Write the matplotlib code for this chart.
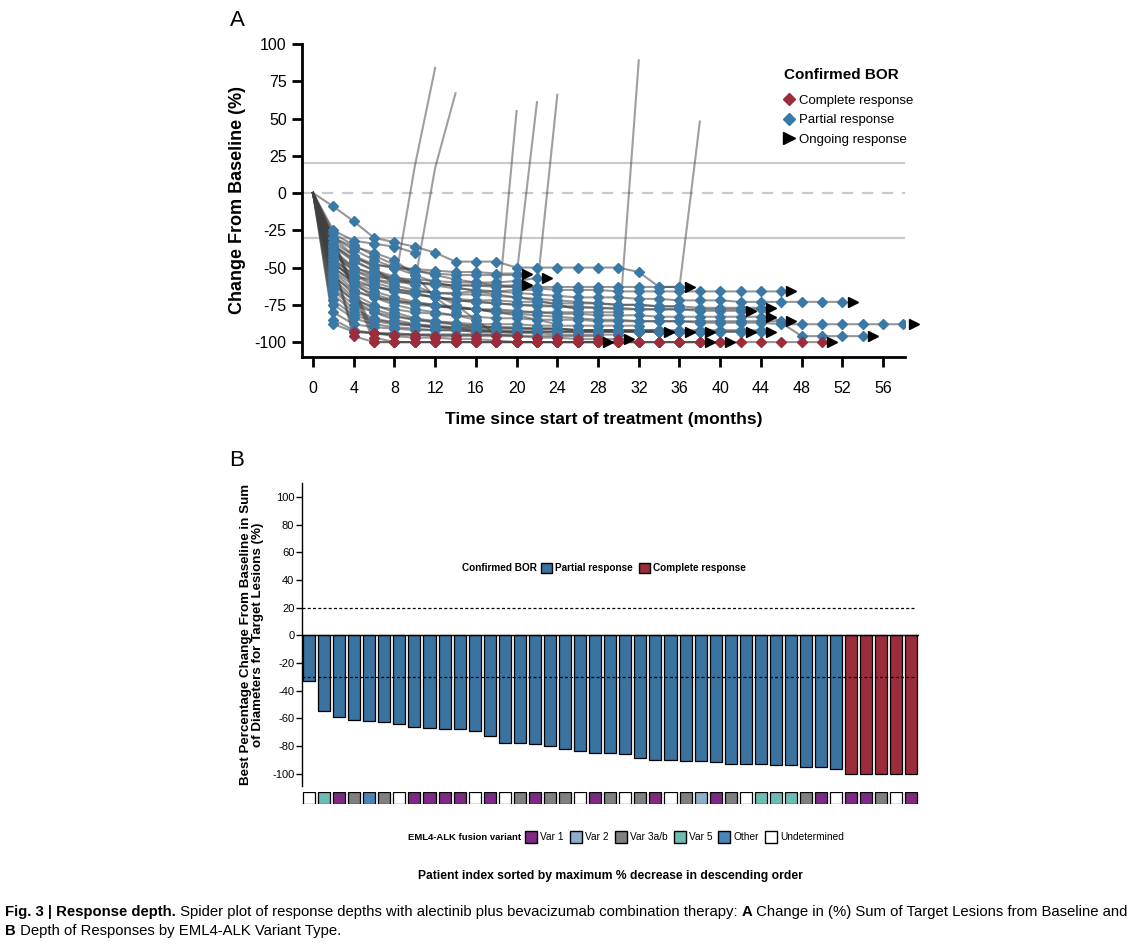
import matplotlib
matplotlib.use("Agg")
import matplotlib.pyplot as plt
from matplotlib.patches import Patch
from matplotlib.lines import Line2D

# --- panel A: spider plot, values at the 2-monthly assessments ---
visit_months = [0, 2, 4, 6, 8, 10, 12, 14, 16, 18, 20, 22, 24, 26, 28,
                30, 32, 34, 36, 38, 40, 42, 44, 46, 48, 50, 52, 54, 56, 58]

# partial responders (None = no assessment at that visit)
pr_curves = [
    [0, -9, -19, -30, -33, -36, -40, -46, -46, -46, -50, -50, -50, -50, -50, -50, -53, -63, -63],
    [0, -30, -42, -50, -62],
    [0, -38, -50, -55, -58, -60],
    [0, -55, -68, -75, -80, -84, -86, -88, -90, -90],
    [0, -33, -42, -48, -50, -52, -54, -55, -55, -55, -55],
    [0, -50, -60, -63, -65, -66, -67, -67, -66, -66, -65, -65],
    [0, -60, -72, -80, -85, -88, -90, -91, -92, -93, -94, -94, -95, -95, -95, -95],
    [0, -42, -52, -56, -58, -60, -61, -62, -62, -63, -63, -63, -63, -63, -63, -63, -63, -63, -63],
    [0, -35, -44, -48, -50, -51, -52, -53, -53, -54, -54],
    [0, -48, -56, -58, -60, -60, -61, -62, -62, -62, -62],
    [0, -40, -50, -54, -57, -58, -59, -60, -60, -60, -59, -57],
    [0, -65, -78, -84, -87, -89, -90, -91, -92, -92, -93, -93, -93, -93, -93, -93, -93, -93],
    [0, -75, -84, -88, -90, -91, -92, -92, -93, -93, -93, -93, -93, -93, -93, -93, -93, -93, -93],
    [0, -58, -70, -78, -82, -85, -87, -88, -89, -90, -90, -91, -91, -92, -92, -92, -93, -93, -93, -93],
    [0, -80, -88, -90, -91, -92, -92, -92, -93, -93, -93, -93, -93, -93, -93, -93, -93, -93, -93, -93, -93, -93],
    [0, -68, -80, -85, -87, -88, -89, -90, -90, -90, -91, -91, -91, -92, -92, -92, -92, -92, -93, -93, -93, -93, -93],
    [0, -45, -55, -60, -64, -67, -70, -72, -73, -74, -75, -75, -76, -76, -77, -77, -78, -78, -78, -79, -79, -79],
    [0, -30, -38, -45, -50, -55, -60, -63, -66, -68, -70, -71, -72, -73, -74, -75, -75, -76, -76, -77, -77, -77, -77],
    [0, -52, -62, -68, -72, -74, -76, -77, -78, -79, -80, -80, -81, -81, -82, -82, -82, -83, -83, -83, -83, -83, -83],
    [0, -62, -72, -76, -78, -80, -81, -82, -83, -84, -84, -85, -85, -85, -86, -86, -86, -86, -86, -86, -86, -86, -86, -86],
    [0, -27, -35, -42, -48, -52, -55, -58, -60, -62, -63, -64, -65, -65, -65, -66, -66, -66, -66, -66, -66, -66, -66, -66],
    [0, -36, -46, -52, -56, -60, -62, -64, -65, -66, -67, -68, -69, -70, -70, -70, -71, -71, -72, -72, -72, -73, -73, -73, -73, -73, -73],
    [0, -44, -55, -62, -66, -68, -70, -72, -73, -74, -75, -76, -76, -77, -77, -78, -78, -78, -78, -78, -78, -78, -78, -87, -96, -96, -96, -96],
    [0, -50, -60, -66, -70, -73, -75, -77, -78, -80, -81, -82, -83, -84, -85, -85, -86, -86, -86, -87, -87, -87, -87, -88, -88, -88, -88, -88, -88, -88],
    [0, -25, -32, -34, -36, -40],
    [0, -30, -36, -40, -45, -55, -70, -80],
    [0, -45, -60, -70, -75, -78, -80, -82, -85],
    [0, -35, -45, -52, -58, -62, -68, -75, -85, -95],
    [0, -85, -92, -94, -95, -95, -95, -95, -95, -95, -95],
    [0, -53, -65, -70, -72, -74, -75, -76, -78, -80, -82, -85, -88],
    [0, -40, -52, -58, -62, -65, -67, -68, -68, -69, -70, -72, -75, -78],
    [0, -88, -93, -94, -94, -95, -95, -95, -95, -95, -96, -96, -96, -96, -96],
    [0, -56, -66, -70, -73, -75, -76, -77, -78, -78, -79, -80, -80, -80, -80, -80],
    [0, -64, -75, -80, -83, -85, -86, -87, -88, -88, -88, -89, -89, -89, -89, -89, -89],
    [0, -47, -58, -63, -66, -68, -70, -71, -72, -72, -73, -73, -74, -74, -74, -75, -75, -76, -76],
    [0, -72, -82, -86, -88, -89, -90, -90, -91, -91, -91, -91, -91, -92, -92, -92, -92, -92, -92, -92, -92, -92, -92],
]
pr_ongoing = [True, False, False, False, False, False, False, False,
              True, True, True, True, True, True, True, True, True, True,
              True, True, True, True, True, True,
              False, False, False, False, False, False, False, False,
              False, False, False, False]

# complete responders
cr_curves = [
    [0, None, -96, -100, -100, -100, -100, -100, -100, -100, -100, -100, -100, -100, -100,
     -100, -100, -100, -100, -100, -100, -100, -100, -100, -100, -100],
    [0, None, None, -97, -100, -100, -100, -100, -100, -100, -100, -100, -100, -100, -100,
     -100, -100, -100, -100, -100, -100],
    [0, None, None, -94, -96, -97, -97, -98, -98, -99, -100, -100, -100, -100, -100,
     -100, -100, -100, -100, -100],
    [0, None, -93, -94, -95, -95, -96, -96, -96, -96, -96, -97, -97, -98, -98, -98],
    [0, None, None, -100, -100, -100, -100, -100, -100, -100, -100, -100, -100, -100, -100],
]
cr_ongoing = [True, True, True, True, True]

# progression after last response assessment (index into pr_curves)
pd_patient = [1, 2, 3, 4, 5, 6, 7]
pd_months = [[10, 12], [12, 14], [20], [22], [24], [32], [38]]
pd_values = [[18, 84], [17, 67], [55], [61], [66], [89], [48]]

# --- panel B: waterfall ---
best_change = [-33, -54.5, -59, -61, -62, -63, -64, -66, -67, -67.5, -67.5, -69, -73,
               -78, -78, -78.5, -80, -82, -83.5, -85.5, -85.5, -86, -88.5, -90, -90.5,
               -91, -91, -92, -93, -93, -93, -93.5, -93.5, -95, -95, -97,
               -100, -100, -100, -100, -100]
best_bor = ['PR'] * 36 + ['CR'] * 5
variant = ['Undetermined', 'Var 5', 'Var 1', 'Var 3a/b', 'Other', 'Var 3a/b', 'Undetermined',
           'Var 1', 'Var 1', 'Var 1', 'Var 1', 'Undetermined', 'Var 1', 'Undetermined',
           'Var 3a/b', 'Var 1', 'Var 3a/b', 'Var 3a/b', 'Undetermined', 'Var 1', 'Var 3a/b',
           'Undetermined', 'Var 3a/b', 'Var 1', 'Undetermined', 'Var 3a/b', 'Var 2', 'Var 1',
           'Var 3a/b', 'Undetermined', 'Var 5', 'Var 5', 'Var 5', 'Var 3a/b', 'Var 1',
           'Undetermined', 'Var 1', 'Var 1', 'Var 3a/b', 'Undetermined', 'Var 1']

BLUE = '#3A78A6'
RED = '#9B2C3B'
BAR_BLUE = '#3A72A0'
VAR_COLORS = {'Var 1': '#7D2A84', 'Var 2': '#8DADCB', 'Var 3a/b': '#808080',
              'Var 5': '#6CBCB1', 'Other': '#4A84B9', 'Undetermined': 'white'}

SANS = ['Liberation Sans', 'DejaVu Sans']
plt.rcParams['font.family'] = SANS
plt.rcParams['axes.unicode_minus'] = False

W, H = 1144, 944
fig = plt.figure(figsize=(W / 100, H / 100), dpi=100)


def box(left, top, right, bottom):
    return [left / W, 1 - bottom / H, (right - left) / W, (bottom - top) / H]


# ================= panel A =================
ax = fig.add_axes(box(302, 44, 905, 357))
ax.set_xlim(-1.08, 58.15)
ax.set_ylim(-110, 100)
ax.axhline(20, color='#C9C9C9', lw=1.6, zorder=1)
ax.axhline(-30, color='#C9C9C9', lw=1.6, zorder=1)
ax.axhline(0, color='#C9C9C9', lw=1.6, ls=(0, (5, 4)), zorder=1)


def clean(vals):
    pts = [(m, v) for m, v in zip(visit_months, vals) if v is not None]
    return [p[0] for p in pts], [p[1] for p in pts]


groups = [(pr_curves, pr_ongoing, BLUE), (cr_curves, cr_ongoing, RED)]
for curves, ongoing, col in groups:
    for vals in curves:
        xs, ys = clean(vals)
        ax.plot(xs, ys, color='#404040', alpha=0.55, lw=1.5, zorder=2)

for k, idx in enumerate(pd_patient):
    xs, ys = clean(pr_curves[idx])
    ax.plot([xs[-1]] + pd_months[k], [ys[-1]] + pd_values[k],
            color='#404040', alpha=0.5, lw=1.5, zorder=2)

for curves, ongoing, col in groups:
    for vals, ong in zip(curves, ongoing):
        xs, ys = clean(vals)
        ax.plot(xs[1:], ys[1:], ls='none', marker='D', ms=4.6, color=col,
                mec=col, zorder=3)
        if ong:
            ax.plot(xs[-1] + 1, ys[-1], ls='none', marker='>', ms=7,
                    color='black', zorder=4, clip_on=False)

for side in ['top', 'right']:
    ax.spines[side].set_visible(False)
for side in ['left', 'bottom']:
    ax.spines[side].set_linewidth(2)
ax.set_xticks(range(0, 57, 4))
ax.set_yticks([100, 75, 50, 25, 0, -25, -50, -75, -100])
ax.tick_params(length=7, width=2, labelsize=11.5, pad=4)
ax.tick_params(axis='x', pad=10)
ax.set_xlabel('Time since start of treatment (months)', fontsize=12.5,
              fontweight='bold', labelpad=12)
ax.set_ylabel('Change From Baseline (%)', fontsize=13, fontweight='bold',
              labelpad=6)

leg_handles = [
    Line2D([], [], ls='none', marker='D', ms=6, color=RED, label='Complete response'),
    Line2D([], [], ls='none', marker='D', ms=6, color=BLUE, label='Partial response'),
    Line2D([], [], ls='none', marker='>', ms=8, color='black', label='Ongoing response'),
]
leg = ax.legend(handles=leg_handles, loc='upper left', bbox_to_anchor=(0.79, 0.94),
                frameon=False, fontsize=9.5, title='Confirmed BOR',
                title_fontproperties={'weight': 'bold', 'size': 11},
                handlelength=0.8, handletextpad=0.4, labelspacing=0.55,
                borderaxespad=0)
leg._legend_box.align = 'left'
leg._legend_box.sep = 9

fig.text(237 / W, 1 - 20 / H, 'A', fontsize=16, ha='center', va='center')

# ================= panel B =================
axb = fig.add_axes(box(302, 483, 919, 786))
pos = list(range(len(best_change)))
bar_cols = [BAR_BLUE if b == 'PR' else RED for b in best_bor]
axb.bar(pos, best_change, width=0.8, color=bar_cols, edgecolor='black',
        linewidth=0.9, zorder=2)
axb.set_xlim(-0.465, 40.5)
axb.set_ylim(-109, 110)
axb.axhline(0, color='black', lw=1.0, zorder=3)
axb.axhline(20, xmax=0.995, color='black', lw=0.9, ls=(0, (2.4, 1.8)), zorder=3)
axb.axhline(-30, xmax=0.995, color='black', lw=0.9, ls=(0, (2.4, 1.8)), zorder=3)
for side in ['top', 'right', 'bottom']:
    axb.spines[side].set_visible(False)
axb.spines['left'].set_linewidth(1.0)
axb.set_xticks([])
axb.set_yticks(range(-100, 101, 20))
axb.tick_params(axis='y', length=4, width=1.0, pad=1.5, labelsize=8)
axb.set_ylabel('Best Percentage Change From Baseline in Sum\nof Diameters for Target Lesions (%)',
               fontsize=9.6, fontweight='bold', linespacing=1.0)
axb.yaxis.set_label_coords(-0.061, 0.5)

fig.text(537 / W, 1 - 568 / H, 'Confirmed BOR', fontsize=7.2,
         fontweight='bold', ha='right', va='center')
bor_handles = [Patch(facecolor=BAR_BLUE, edgecolor='black', label='Partial response'),
               Patch(facecolor=RED, edgecolor='black', label='Complete response')]
fig.legend(handles=bor_handles, loc='center left', bbox_to_anchor=(541 / W, 1 - 568 / H),
           frameon=False, ncol=2, prop={'size': 7.2, 'weight': 'bold'},
           handlelength=1.1, handleheight=1.3, handletextpad=0.3, columnspacing=0.6,
           borderaxespad=0, borderpad=0)

fig.text(237 / W, 1 - 460 / H, 'B', fontsize=16, ha='center', va='center')

# variant strip
axv = fig.add_axes(box(302, 792, 919, 804))
axv.bar(pos, [1] * len(pos), width=0.8, color=[VAR_COLORS[v] for v in variant],
        edgecolor='black', linewidth=0.9)
axv.set_xlim(-0.465, 40.5)
axv.set_ylim(0, 1)
axv.axis('off')

fig.text(521 / W, 1 - 837 / H, 'EML4-ALK fusion variant', fontsize=6.8,
         fontweight='bold', ha='right', va='center')
var_handles = [Patch(facecolor=VAR_COLORS[v], edgecolor='black', label=v)
               for v in ['Var 1', 'Var 2', 'Var 3a/b', 'Var 5', 'Other', 'Undetermined']]
fig.legend(handles=var_handles, loc='center left', bbox_to_anchor=(525 / W, 1 - 837 / H),
           frameon=False, ncol=6, prop={'size': 7.3},
           handlelength=1.2, handleheight=1.4, handletextpad=0.3, columnspacing=0.6,
           borderaxespad=0, borderpad=0)

fig.text(610 / W, 1 - 876 / H, 'Patient index sorted by maximum % decrease in descending order',
         fontsize=8.7, fontweight='bold', ha='center', va='center')

# caption, mixed weights chained piece by piece
cap_lines = [
    [('Fig. 3 | Response depth.', 'bold'),
     (' Spider plot of response depths with alectinib plus bevacizumab combination therapy: ', 'normal'),
     ('A', 'bold'),
     (' Change in (%) Sum of Target Lesions from Baseline and', 'normal')],
    [('B', 'bold'), (' Depth of Responses by EML4-ALK Variant Type.', 'normal')],
]
cap_y = [916, 935]
for line, yy in zip(cap_lines, cap_y):
    last = None
    for txt, wt in line:
        if last is None:
            last = fig.text(5 / W, 1 - yy / H, txt, fontsize=10.7,
                            fontweight=wt, ha='left', va='baseline')
        else:
            last = plt.annotate(txt, xy=(1, 0), xycoords=last,
                                fontsize=10.7, fontweight=wt, ha='left', va='bottom')

fig.savefig('out.png', dpi=100)
